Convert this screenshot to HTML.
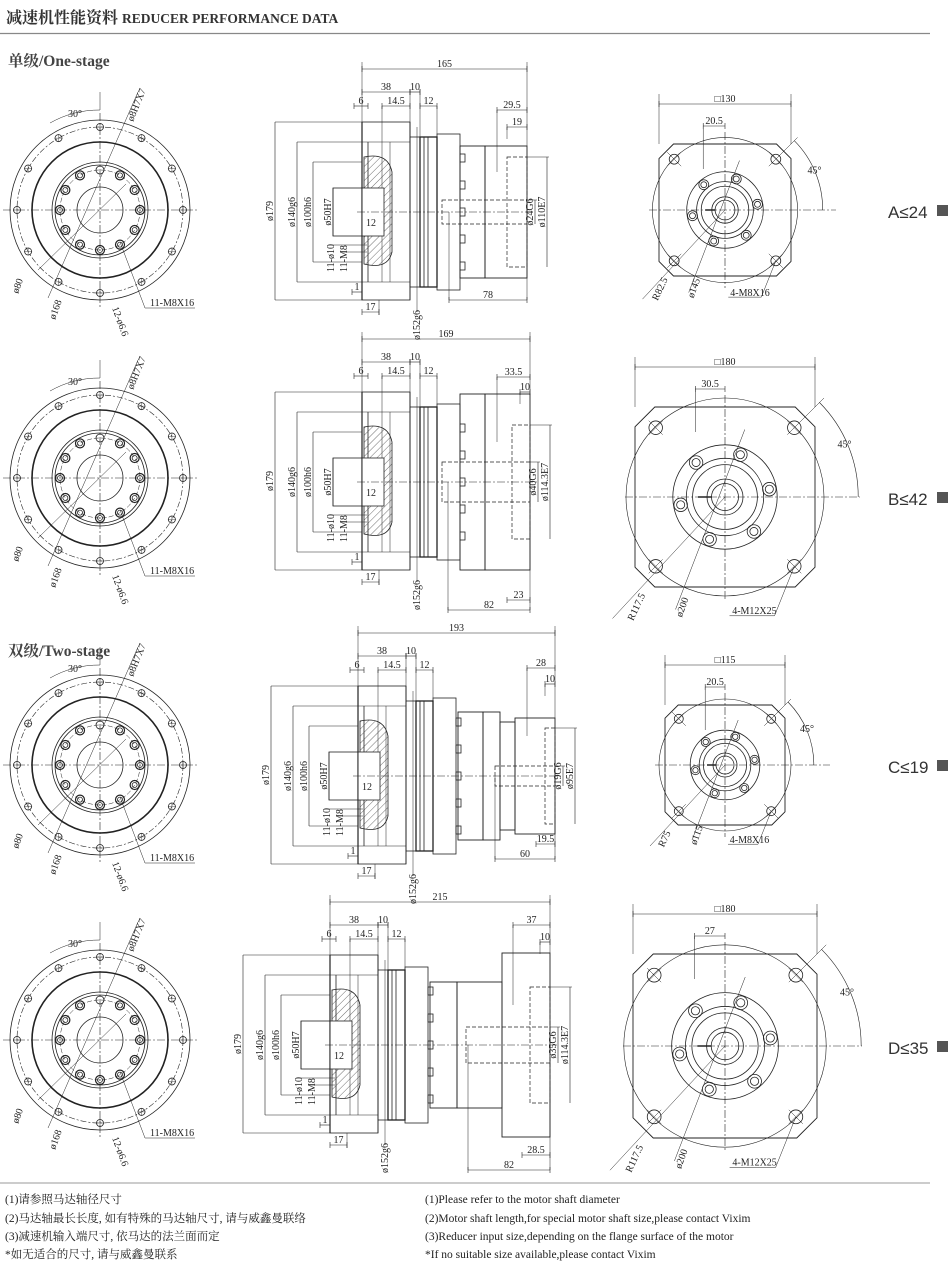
<!DOCTYPE html>
<html><head><meta charset="utf-8">
<style>
html,body{margin:0;padding:0;background:#fff;}
body{width:950px;height:1265px;position:relative;overflow:hidden;}
svg{position:absolute;left:0;top:0;}
</style></head>
<body>
<svg id="s" width="950" height="1265" viewBox="0 0 950 1265" xmlns="http://www.w3.org/2000/svg" font-family="'Liberation Serif','Noto Serif CJK SC',serif">
<defs>
<pattern id="hat" width="5" height="5" patternUnits="userSpaceOnUse" patternTransform="rotate(45)">
<line x1="0" y1="0" x2="0" y2="5" stroke="#333" stroke-width="0.7"/>
</pattern>
</defs>
<text x="6" y="23" font-size="16" font-weight="bold" fill="#333" font-family="'Liberation Serif','Noto Serif CJK SC',serif">减速机性能资料 <tspan font-size="13.5">REDUCER PERFORMANCE DATA</tspan></text>
<line x1="0" y1="33.5" x2="930" y2="33.5" stroke="#888" stroke-width="1.2"/>
<text x="8" y="66" font-size="15.5" font-weight="bold" fill="#444">单级/One-stage</text>
<text x="8" y="656" font-size="15.5" font-weight="bold" fill="#444">双级/Two-stage</text>
<line x1="0" y1="1183" x2="930" y2="1183" stroke="#bbb" stroke-width="1.5"/>
<g font-size="11.5" fill="#222">
<text x="5" y="1203">(1)请参照马达轴径尺寸</text>
<text x="5" y="1222">(2)马达轴最长长度, 如有特殊的马达轴尺寸, 请与威鑫曼联络</text>
<text x="5" y="1240">(3)减速机输入端尺寸, 依马达的法兰面而定</text>
<text x="5" y="1258">*如无适合的尺寸, 请与威鑫曼联系</text>
<text x="425" y="1203">(1)Please refer to the motor shaft diameter</text>
<text x="425" y="1222">(2)Motor shaft length,for special motor shaft size,please contact Vixim</text>
<text x="425" y="1240">(3)Reducer input size,depending on the flange surface of the motor</text>
<text x="425" y="1258">*If no suitable size available,please contact Vixim</text>
</g>
<g id="draw" fill="none" stroke="#222" stroke-width="0.8"></g>
<g id="txt" fill="#222" font-size="10"></g>
</svg>
<script>
var D=document.getElementById('draw'),T=document.getElementById('txt');
var out='',tx='';
function L(x1,y1,x2,y2,a){out+='<line x1="'+x1+'" y1="'+y1+'" x2="'+x2+'" y2="'+y2+'" '+(a||'')+'/>';}
function C(x,y,r,a){out+='<circle cx="'+x+'" cy="'+y+'" r="'+r+'" '+(a||'')+'/>';}
function R(x,y,w,h,a){out+='<rect x="'+x+'" y="'+y+'" width="'+w+'" height="'+h+'" '+(a||'')+'/>';}
function P(d,a){out+='<path d="'+d+'" '+(a||'')+'/>';}
function t(x,y,s,rot,sz,anchor){tx+='<text x="'+x+'" y="'+y+'"'+(rot?' transform="rotate('+rot+' '+x+' '+y+')"':'')+(sz?' font-size="'+sz+'"':'')+(anchor?' text-anchor="'+anchor+'"':'')+'>'+s+'</text>';}
var DASH='stroke-dasharray="8 2 2 2" stroke-width="0.6"';
var HID='stroke-dasharray="4 2" stroke-width="0.7"';
function hdim(x1,x2,y,s){L(x1,y,x2,y,'stroke-width="0.6"');L(x1,y-3,x1,y+3,'stroke-width="0.6"');L(x2,y-3,x2,y+3,'stroke-width="0.6"');t((x1+x2)/2,y-2,s,0,10,'middle');}
function vdim(x,y1,y2,s){L(x,y1,x,y2,'stroke-width="0.6"');t(x-2,(y1+y2)/2,s,-90,10,'middle');}

function circ(cx,cy){
 C(cx,cy,90);C(cx,cy,83,'stroke-dasharray="6 2 2 2" stroke-width="0.6"');C(cx,cy,68,'stroke-width="1.6"');
 C(cx,cy,48);C(cx,cy,45);C(cx,cy,23);C(cx,cy,40,'stroke-dasharray="5 2" stroke-width="0.5"');
 L(cx-97,cy,cx+97,cy,DASH);L(cx,cy-97,cx,cy+97,DASH);
 for(var i=0;i<12;i++){var a=i*Math.PI/6;var x=cx+83*Math.cos(a),y=cy+83*Math.sin(a);C(x,y,3.5);L(x-4,y,x+4,y,'stroke-width="0.4"');L(x,y-4,x,y+4,'stroke-width="0.4"');}
 for(var i=0;i<12;i++){if(i==9)continue;var a=i*Math.PI/6;var x=cx+40*Math.cos(a),y=cy+40*Math.sin(a);C(x,y,4.5,'stroke-width="1.2"');C(x,y,2.5);}
 C(cx,cy-40,4);
 L(cx-52,cy+88,cx+38,cy-118,'stroke-width="0.5"');L(cx-62,cy+60,cx+26,cy-26,'stroke-width="0.5"');
 L(cx,cy-118,cx,cy-100,'stroke-width="0.5"');
 P('M'+(cx-50)+' '+(cy-87)+' A100 100 0 0 1 '+cx+' '+(cy-100),'stroke-width="0.5"');
 t(cx-32,cy-93,'30°',0,10);
 t(cx+33,cy-88,'ø8H7X7',-68,10);
 t(cx-82,cy+84,'ø80',-70,10);
 t(cx-45,cy+110,'ø168',-70,10);
 t(cx+12,cy+98,'12-ø6.6',70,10);
 L(cx+20,cy+32,cx+45,cy+98,'stroke-width="0.5"');L(cx+45,cy+98,cx+95,cy+98,'stroke-width="0.5"');
 t(cx+50,cy+96,'11-M8X16',0,10);
}

function side(F,cy,parts,labels){
 var R0=parts[parts.length-1][1];
 L(F,cy-90,F,cy+88,'stroke-width="1.2"');
 R(F,cy-90,48,178);
 L(F+48,cy-90,F+48,cy+88);
 L(F+6,cy-70,F+6,cy+70);
 L(F+20,cy-70,F+20,cy+70,'stroke-width="0.5"');
 L(F+28,cy-70,F+28,cy+70,'stroke-width="0.5"');
 L(F+48,cy-75,F+48,cy+75);
 P('M'+(F+2)+' '+(cy-55)+' Q'+(F+26)+' '+(cy-60)+' '+(F+30)+' '+(cy-40)+' L'+(F+30)+' '+(cy+40)+' Q'+(F+26)+' '+(cy+58)+' '+(F+2)+' '+(cy+52)+' Z','fill="url(#hat)" stroke-width="0.8"');
 R(F,cy-24,22,48,'fill="#fff"');
 R(F-29,cy-24,29,48);
 L(F-49,cy-50,F,cy-50,'stroke-width="0.6"');L(F-49,cy+50,F,cy+50,'stroke-width="0.6"');
 L(F-65,cy-70,F+48,cy-70,'stroke-width="0.6"');L(F-65,cy+70,F+48,cy+70,'stroke-width="0.6"');
 L(F-87,cy-90,F,cy-90,'stroke-width="0.6"');L(F-87,cy+88,F,cy+88,'stroke-width="0.6"');
 L(F-33,cy+33,F+5,cy+33,'stroke-width="0.5"');L(F-20,cy+40,F+5,cy+40,'stroke-width="0.5"');
 vdim(F-87,cy-90,cy+88,'ø179');vdim(F-65,cy-70,cy+70,'ø140g6');vdim(F-49,cy-50,cy+50,'ø100h6');vdim(F-29,cy-24,cy+24,'ø50H7');
 t(F-28,cy+60,'11-ø10',-90,10);t(F-15,cy+60,'11-M8',-90,10);
 t(F+4,cy+14,'12',0,10);
 R(F+48,cy-75,10,150);
 R(F+58,cy-75,17,150,'stroke-width="1.3"');
 L(F+62,cy-75,F+62,cy+75);L(F+66,cy-75,F+66,cy+75);
 R(F+75,cy-78,23,156);
 for(var k=-2;k<=2;k++){R(F+98,cy+k*27-4,5,8);}
 L(F-5,cy,R0+8,cy,DASH);
 for(var i=0;i<parts.length;i++){var p=parts[i];R(p[0],cy-p[2],p[1]-p[0],2*p[2],'stroke-width="0.9"');}
 var ls=labels;
 R(ls.sx,cy-ls.sr,R0-ls.sx,2*ls.sr,HID);
 R(ls.bx,cy-ls.br,R0-ls.bx,2*ls.br,HID);
 vdim(R0+8,cy-ls.sr,cy+ls.sr,ls.s1);
 vdim(R0+20,cy-ls.br,cy+ls.br,ls.s2);
 L(R0,cy-ls.sr,R0+10,cy-ls.sr,'stroke-width="0.5"');L(R0,cy-ls.br,R0+22,cy-ls.br,'stroke-width="0.5"');
 L(F,cy-150,F,cy-90,'stroke-width="0.5"');L(R0,cy-150,R0,cy-ls.topR,'stroke-width="0.5"');
 hdim(F,R0,cy-143,ls.total);
 hdim(F,F+48,cy-120,'38');hdim(F+48,F+58,cy-120,'10');
 L(F+48,cy-123,F+48,cy-75,'stroke-width="0.5"');L(F+58,cy-123,F+58,cy-75,'stroke-width="0.5"');
 hdim(F-8,F+6,cy-106,'6');hdim(F+20,F+48,cy-106,'14.5');hdim(F+58,F+75,cy-106,'12');
 L(F+20,cy-106,F+20,cy-70,'stroke-width="0.5"');L(F+75,cy-106,F+75,cy-78,'stroke-width="0.5"');
 hdim(R0-ls.d1w,R0,cy-ls.d1y,ls.d1);L(R0-ls.d1w,cy-ls.d1y,R0-ls.d1w,cy-40,'stroke-width="0.5"');
 hdim(R0-ls.d2w,R0,cy-ls.d2y,ls.d2);L(R0-ls.d2w,cy-ls.d2y,R0-ls.d2w,cy-ls.d2y+12,'stroke-width="0.5"');
 hdim(F,F+17,cy+100,'17');L(F+17,cy+88,F+17,cy+103,'stroke-width="0.5"');
 hdim(F-10,F,cy+80,'1');
 L(F+55,cy-85,F+55,cy+100,'stroke-width="0.5"');t(F+58,cy+128,'ø152g6',-90,10);
 hdim(R0-ls.b1w,R0,cy+ls.b1y,ls.b1);L(R0-ls.b1w,cy+ls.b1y,R0-ls.b1w,cy,'stroke-width="0.5"');L(R0,cy+ls.b1y,R0,cy+40,'stroke-width="0.5"');
 if(ls.b2){hdim(R0-ls.b2w,R0,cy+ls.b2y,ls.b2);}
}

function sq(cx,cy,h,lab){
 var c=h*0.22;
 P('M'+(cx-h+c)+' '+(cy-h)+' L'+(cx+h-c)+' '+(cy-h)+' L'+(cx+h)+' '+(cy-h+c)+' L'+(cx+h)+' '+(cy+h-c)+' L'+(cx+h-c)+' '+(cy+h)+' L'+(cx-h+c)+' '+(cy+h)+' L'+(cx-h)+' '+(cy+h-c)+' L'+(cx-h)+' '+(cy-h+c)+' Z','stroke-width="0.9"');
 var big=h*1.1;
 C(cx,cy,big,'stroke-width="0.6"');
 L(cx-h-10,cy,cx+h+45,cy,DASH);L(cx,cy-h-12,cx,cy+h+12,DASH);
 [[-1,-1],[1,-1],[-1,1],[1,1]].forEach(function(s){var x=cx+s[0]*h*0.77,y=cy+s[1]*h*0.77;C(x,y,h*0.075);L(x-7,y-7,x+7,y+7,'stroke-width="0.5"');L(x-7,y+7,x+7,y-7,'stroke-width="0.5"');});
 C(cx,cy,h*0.58);C(cx,cy,h*0.43);C(cx,cy,h*0.36);C(cx,cy,h*0.2);C(cx,cy,h*0.15);
 for(var i=0;i<6;i++){var a=(-70+i*60)*Math.PI/180;var x=cx+h*0.5*Math.cos(a),y=cy+h*0.5*Math.sin(a);C(x,y,h*0.075);C(x,y,h*0.045);}
 L(cx-h*0.3,cy,cx-h*0.15,cy,'stroke-width="1.5"');
 L(cx-h,cy-h,cx-h,cy-h-50,'stroke-width="0.5"');L(cx+h,cy-h,cx+h,cy-h-50,'stroke-width="0.5"');
 hdim(cx-h,cx+h,cy-h-40,'□'+lab.sq);
 hdim(cx-h*0.33,cx,cy-h-18,lab.off);L(cx-h*0.33,cy-h-18,cx-h*0.33,cy-h+25,'stroke-width="0.5"');
 P('M'+(cx+h*1.05)+' '+(cy-h*1.05)+' A'+(h*1.48)+' '+(h*1.48)+' 0 0 1 '+(cx+h*1.48)+' '+cy,'stroke-width="0.6"');
 L(cx+h*0.77,cy-h*0.77,cx+h*1.1,cy-h*1.1,'stroke-width="0.5"');
 t(cx+h*1.25,cy-h*0.55,'45°',0,10);
 L(cx,cy,cx-h*1.25,cy+h*1.35,'stroke-width="0.5"');t(cx-h*1.02,cy+h*1.38,lab.r,-65,10);
 L(cx+h*0.22,cy-h*0.75,cx-h*0.55,cy+h*1.25,'stroke-width="0.5"');t(cx-h*0.48,cy+h*1.34,lab.d,-70,10);
 L(cx+h*0.77,cy+h*0.77,cx+h*0.55,cy+h*1.32,'stroke-width="0.5"');L(cx+h*0.55,cy+h*1.32,cx+h*0.05,cy+h*1.32,'stroke-width="0.5"');
 t(cx+h*0.08,cy+h*1.3,lab.m,0,10);
 tx+='<text x="888" y="'+(cy+8)+'" font-family="\'Liberation Sans\',\'DejaVu Sans\',sans-serif" font-size="17" fill="#333">'+lab.L+'</text>';
 out+='<rect x="'+(lab.bx)+'" y="'+(cy-5)+'" width="11" height="11" fill="#555" stroke="none"/>';
}

circ(100,210);circ(100,478);circ(100,765);circ(100,1040);

side(362,212,[[460,485,66],[485,527,66]],{total:'165',s1:'ø24G6',s2:'ø110E7',sx:442,sr:12,bx:507,br:55,topR:66,d1:'29.5',d1w:30,d1y:102,d2:'19',d2w:20,d2y:85,b1:'78',b1w:78,b1y:88});
side(362,482,[[460,485,88],[485,530,88]],{total:'169',s1:'ø40G6',s2:'ø114.3E7',sx:442,sr:20,bx:512,br:57,topR:88,d1:'33.5',d1w:33,d1y:105,d2:'10',d2w:10,d2y:90,b1:'82',b1w:82,b1y:128,b2:'23',b2w:23,b2y:118});
side(358,776,[[458,483,64],[483,500,64],[500,515,54],[515,555,58]],{total:'193',s1:'ø19G6',s2:'ø95E7',sx:495,sr:10,bx:545,br:48,topR:58,d1:'28',d1w:28,d1y:108,d2:'10',d2w:10,d2y:92,b1:'60',b1w:60,b1y:83,b2:'19.5',b2w:19,b2y:68});
side(330,1045,[[430,457,63],[457,502,63],[502,550,92]],{total:'215',s1:'ø35G6',s2:'ø114.3E7',sx:466,sr:18,bx:530,br:58,topR:92,d1:'37',d1w:37,d1y:120,d2:'10',d2w:10,d2y:103,b1:'82',b1w:82,b1y:125,b2:'28.5',b2w:28,b2y:110});

sq(725,210,66,{sq:'130',off:'20.5',r:'R82.5',d:'ø145',m:'4-M8X16',L:'A≤24',bx:937});
sq(725,497,90,{sq:'180',off:'30.5',r:'R117.5',d:'ø200',m:'4-M12X25',L:'B≤42',bx:937});
sq(725,765,60,{sq:'115',off:'20.5',r:'R75',d:'ø115',m:'4-M8X16',L:'C≤19',bx:937});
sq(725,1046,92,{sq:'180',off:'27',r:'R117.5',d:'ø200',m:'4-M12X25',L:'D≤35',bx:937});

D.innerHTML=out;T.innerHTML=tx;
</script>
</body></html>
